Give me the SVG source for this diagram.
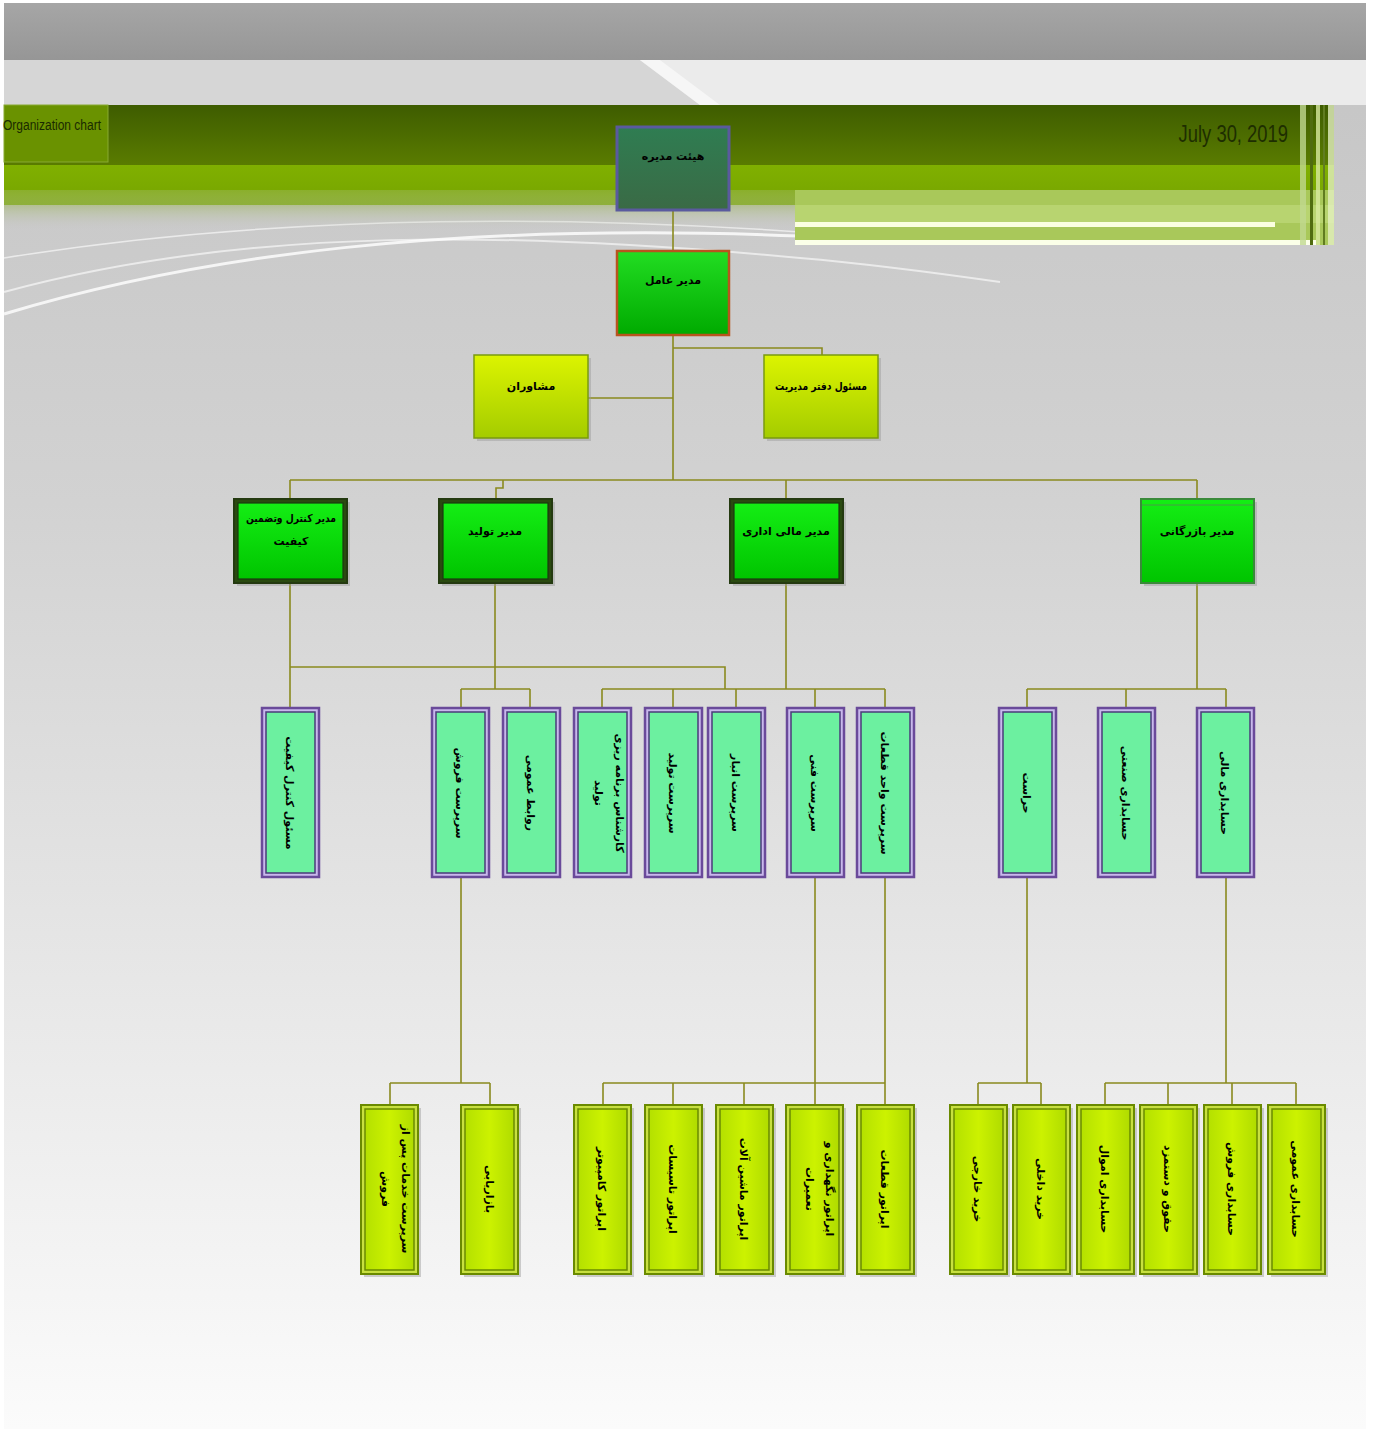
<svg xmlns="http://www.w3.org/2000/svg" width="1373" height="1429" viewBox="0 0 1373 1429">
<defs>
<linearGradient id="bg" x1="0" y1="0" x2="0" y2="1">
<stop offset="0" stop-color="#c4c4c4"/>
<stop offset="0.35" stop-color="#d2d2d2"/>
<stop offset="0.7" stop-color="#e8e8e8"/>
<stop offset="1" stop-color="#fbfbfb"/>
</linearGradient>
<linearGradient id="topgray" x1="0" y1="0" x2="0" y2="1">
<stop offset="0" stop-color="#a6a6a6"/>
<stop offset="1" stop-color="#969696"/>
</linearGradient>
<linearGradient id="olive" x1="0" y1="0" x2="0" y2="1">
<stop offset="0" stop-color="#3e5c00"/>
<stop offset="1" stop-color="#5a7c00"/>
</linearGradient>
<linearGradient id="band" x1="0" y1="0" x2="0" y2="1">
<stop offset="0" stop-color="#80b000"/>
<stop offset="1" stop-color="#76a400"/>
</linearGradient>
<linearGradient id="fade" x1="0" y1="0" x2="0" y2="1">
<stop offset="0" stop-color="#8cb030" stop-opacity="0.9"/>
<stop offset="1" stop-color="#c4c4c4" stop-opacity="0"/>
</linearGradient>
<linearGradient id="gBoard" x1="0" y1="0" x2="0" y2="1">
<stop offset="0" stop-color="#2f7d52"/>
<stop offset="1" stop-color="#3a6a45"/>
</linearGradient>
<linearGradient id="gCeo" x1="0" y1="0" x2="0" y2="1">
<stop offset="0" stop-color="#22dd22"/>
<stop offset="1" stop-color="#00aa00"/>
</linearGradient>
<linearGradient id="gYel" x1="0" y1="0" x2="0" y2="1">
<stop offset="0" stop-color="#dcf400"/>
<stop offset="1" stop-color="#a4cc00"/>
</linearGradient>
<linearGradient id="gMgr" x1="0" y1="0" x2="0" y2="1">
<stop offset="0" stop-color="#14ee14"/>
<stop offset="1" stop-color="#00c400"/>
</linearGradient>
<linearGradient id="gL5" x1="0" y1="0" x2="1" y2="0">
<stop offset="0" stop-color="#b4e000"/>
<stop offset="0.5" stop-color="#ccf200"/>
<stop offset="1" stop-color="#b0dc00"/>
</linearGradient>
<style>
.c{fill:none;stroke:#8a8a1e;stroke-width:1.6}
.t{font-family:"DejaVu Sans","Noto Sans",sans-serif;font-size:11px;font-weight:bold;fill:#000;text-anchor:middle;direction:rtl}
.l4o{fill:#c9b8ec;stroke:#6a4a9a;stroke-width:2.5}
.l4i{fill:#6cf0a0;stroke:#4a3a7a;stroke-width:1.5}
.l5o{fill:#c8e040;stroke:#6a8a00;stroke-width:2}
.l5i{fill:url(#gL5);stroke:#6a8a00;stroke-width:1.5}
.l3o{fill:#2a4a10;stroke:#243a10;stroke-width:2}
.l3i{fill:url(#gMgr);stroke:#1a3a10;stroke-width:1.2}
.yel{fill:url(#gYel);stroke:#7a9a10;stroke-width:1.5}
.sh{fill:#999;opacity:0.45}
</style>
</defs>

<!-- background -->
<rect x="0" y="0" width="1373" height="1429" fill="#ffffff"/>
<rect x="4" y="3" width="1362" height="1426" fill="url(#bg)"/>
<rect x="4" y="3" width="1362" height="57" fill="url(#topgray)"/>
<rect x="4" y="60" width="1362" height="45" fill="#d6d6d6"/>
<polygon points="640,60 1366,60 1366,105 700,105" fill="#ebebeb"/>
<polygon points="640,60 660,60 720,105 700,105" fill="#f6f6f6"/>
<path d="M4,314 C200,255 450,222 800,236" fill="none" stroke="#ffffff" stroke-width="3" opacity="0.8"/>
<path d="M4,292 C250,225 520,232 800,258 C870,264 930,272 1000,282" fill="none" stroke="#ffffff" stroke-width="2" opacity="0.6"/>
<path d="M4,258 C300,210 600,218 800,232" fill="none" stroke="#ffffff" stroke-width="1.5" opacity="0.6"/>
<rect x="4" y="105" width="1330" height="60" fill="url(#olive)"/>
<rect x="4" y="165" width="1330" height="40" fill="url(#band)"/>
<rect x="4" y="190" width="791" height="40" fill="url(#fade)"/>
<rect x="795" y="190" width="539" height="55" fill="#a9c85a"/>
<rect x="795" y="205" width="539" height="18" fill="#b8d470"/>
<rect x="795" y="222" width="480" height="5" fill="#fbffe0"/>
<rect x="795" y="240" width="521" height="5" fill="#fbffe8"/>
<rect x="1300" y="105" width="6" height="140" fill="#c0d890" opacity="0.8"/>
<rect x="1310" y="105" width="3" height="140" fill="#506c10"/>
<rect x="1316" y="105" width="4" height="140" fill="#d8eaa0" opacity="0.8"/>
<rect x="1323" y="105" width="2" height="140" fill="#607c20"/>
<rect x="1328" y="105" width="6" height="140" fill="#e4f0c0" opacity="0.8"/>
<rect x="4" y="105" width="104" height="57" fill="#6a9200" stroke="#88aa30" stroke-width="1"/>
<text x="52" y="130" font-family="Liberation Sans, Arial, sans-serif" font-size="14" fill="#1a2a00" text-anchor="middle" textLength="98" lengthAdjust="spacingAndGlyphs">Organization chart</text>
<text x="1288" y="142" font-family="Liberation Sans, Arial, sans-serif" font-size="23" fill="#1e2e00" text-anchor="end" transform="translate(1288 0) scale(0.8 1) translate(-1288 0)">July 30, 2019</text>

<!-- connectors -->
<g id="connectors">
<path class="c" d="M673,210 V250"/>
<path class="c" d="M673,335 V480"/>
<path class="c" d="M673,348 H822 V355"/>
<path class="c" d="M588,398 H673"/>
<path class="c" d="M290,480 H1197"/>
<path class="c" d="M290,480 V500"/>
<path class="c" d="M503,480 V488 H496 V500"/>
<path class="c" d="M786,480 V500"/>
<path class="c" d="M1197,480 V500"/>
<path class="c" d="M290,583 V709"/>
<path class="c" d="M290,667 H725 V689"/>
<path class="c" d="M495,583 V689"/>
<path class="c" d="M461,689 H530"/>
<path class="c" d="M461,689 V709"/>
<path class="c" d="M530,689 V709"/>
<path class="c" d="M786,583 V689"/>
<path class="c" d="M602,689 H885"/>
<path class="c" d="M602,689 V709"/>
<path class="c" d="M673,689 V709"/>
<path class="c" d="M736,689 V709"/>
<path class="c" d="M815,689 V709"/>
<path class="c" d="M885,689 V709"/>
<path class="c" d="M1027,689 H1226"/>
<path class="c" d="M1197,583 V689"/>
<path class="c" d="M1027,689 V709"/>
<path class="c" d="M1126,689 V709"/>
<path class="c" d="M1226,689 V709"/>
<path class="c" d="M461,877 V1083"/>
<path class="c" d="M390,1083 H490"/>
<path class="c" d="M390,1083 V1105"/>
<path class="c" d="M490,1083 V1105"/>
<path class="c" d="M815,877 V1083"/>
<path class="c" d="M885,877 V1105"/>
<path class="c" d="M603,1083 H885"/>
<path class="c" d="M603,1083 V1105"/>
<path class="c" d="M673,1083 V1105"/>
<path class="c" d="M744,1083 V1105"/>
<path class="c" d="M815,1083 V1105"/>
<path class="c" d="M1027,877 V1083"/>
<path class="c" d="M978,1083 H1041"/>
<path class="c" d="M978,1083 V1105"/>
<path class="c" d="M1041,1083 V1105"/>
<path class="c" d="M1226,877 V1083"/>
<path class="c" d="M1105,1083 H1296"/>
<path class="c" d="M1105,1083 V1105"/>
<path class="c" d="M1168,1083 V1105"/>
<path class="c" d="M1232,1083 V1105"/>
<path class="c" d="M1296,1083 V1105"/>
</g>

<!-- top nodes -->
<g id="board">
<rect x="617" y="127" width="112" height="83" fill="url(#gBoard)" stroke="#5a5a9e" stroke-width="3"/>
<text class="t" x="673" y="160">هیئت مدیره</text>
</g>
<g id="ceo">
<rect x="617" y="251" width="112" height="84" fill="url(#gCeo)" stroke="#b8541e" stroke-width="2.5"/>
<text class="t" x="673" y="284">مدیر عامل</text>
</g>
<g id="advisors">
<rect class="sh" x="477" y="358" width="114" height="83"/>
<rect class="yel" x="474" y="355" width="114" height="83"/>
<text class="t" x="531" y="390">مشاوران</text>
</g>
<g id="office">
<rect class="sh" x="767" y="358" width="114" height="83"/>
<rect class="yel" x="764" y="355" width="114" height="83"/>
<text class="t" x="821" y="390" textLength="92" lengthAdjust="spacingAndGlyphs">مسئول دفتر مدیریت</text>
</g>

<!-- level 3 managers -->
<g id="qc-manager">
<rect class="sh" x="237" y="502" width="113" height="84"/>
<rect class="l3o" x="234" y="499" width="113" height="84"/>
<rect class="l3i" x="238" y="503" width="105" height="76"/>
<text class="t" x="291" y="522" textLength="90" lengthAdjust="spacingAndGlyphs">مدیر کنترل وتضمین</text>
<text class="t" x="291" y="545">کیفیت</text>
</g>
<g id="production-manager">
<rect class="sh" x="442" y="502" width="113" height="84"/>
<rect class="l3o" x="439" y="499" width="113" height="84"/>
<rect class="l3i" x="443" y="503" width="105" height="76"/>
<text class="t" x="495" y="535">مدیر تولید</text>
</g>
<g id="finance-manager">
<rect class="sh" x="733" y="502" width="113" height="84"/>
<rect class="l3o" x="730" y="499" width="113" height="84"/>
<rect class="l3i" x="734" y="503" width="105" height="76"/>
<text class="t" x="786" y="535">مدیر مالی اداری</text>
</g>
<g id="commerce-manager">
<rect class="sh" x="1144" y="502" width="113" height="84"/>
<rect x="1141" y="499" width="113" height="84" fill="url(#gMgr)" stroke="#3a8a3a" stroke-width="2"/>
<line x1="1142" y1="505" x2="1253" y2="505" stroke="#4a9a4a" stroke-width="1"/>
<text class="t" x="1197" y="535">مدیر بازرگانی</text>
</g>

<!-- level 4 -->
<g id="n4-1"><rect class="l4o" x="262" y="708" width="57" height="169"/><rect class="l4i" x="266" y="712" width="49" height="161"/><text class="t" transform="translate(290 793) rotate(90)" y="4">مسئول کنترل کیفیت</text></g>
<g id="n4-2"><rect class="l4o" x="432" y="708" width="57" height="169"/><rect class="l4i" x="436" y="712" width="49" height="161"/><text class="t" transform="translate(460 793) rotate(90)" y="4">سرپرست فروش</text></g>
<g id="n4-3"><rect class="l4o" x="503" y="708" width="57" height="169"/><rect class="l4i" x="507" y="712" width="49" height="161"/><text class="t" transform="translate(531 793) rotate(90)" y="4">روابط عمومی</text></g>
<g id="n4-4"><rect class="l4o" x="574" y="708" width="57" height="169"/><rect class="l4i" x="578" y="712" width="49" height="161"/><text class="t" transform="translate(610 793) rotate(90)" y="-6">کارشناس برنامه ریزی</text><text class="t" transform="translate(610 793) rotate(90)" y="15">تولید</text></g>
<g id="n4-5"><rect class="l4o" x="645" y="708" width="57" height="169"/><rect class="l4i" x="649" y="712" width="49" height="161"/><text class="t" transform="translate(673 793) rotate(90)" y="4">سرپرست تولید</text></g>
<g id="n4-6"><rect class="l4o" x="708" y="708" width="57" height="169"/><rect class="l4i" x="712" y="712" width="49" height="161"/><text class="t" transform="translate(736 793) rotate(90)" y="4">سرپرست انبار</text></g>
<g id="n4-7"><rect class="l4o" x="787" y="708" width="57" height="169"/><rect class="l4i" x="791" y="712" width="49" height="161"/><text class="t" transform="translate(815 793) rotate(90)" y="4">سرپرست فنی</text></g>
<g id="n4-8"><rect class="l4o" x="857" y="708" width="57" height="169"/><rect class="l4i" x="861" y="712" width="49" height="161"/><text class="t" transform="translate(885 793) rotate(90)" y="4">سرپرست واحد قطعات</text></g>
<g id="n4-9"><rect class="l4o" x="999" y="708" width="57" height="169"/><rect class="l4i" x="1003" y="712" width="49" height="161"/><text class="t" transform="translate(1027 793) rotate(90)" y="4">حراست</text></g>
<g id="n4-10"><rect class="l4o" x="1098" y="708" width="57" height="169"/><rect class="l4i" x="1102" y="712" width="49" height="161"/><text class="t" transform="translate(1126 793) rotate(90)" y="4">حسابداری صنعتی</text></g>
<g id="n4-11"><rect class="l4o" x="1197" y="708" width="57" height="169"/><rect class="l4i" x="1201" y="712" width="49" height="161"/><text class="t" transform="translate(1225 793) rotate(90)" y="4">حسابداری مالی</text></g>

<!-- level 5 -->
<g id="n5-1"><rect class="sh" x="364" y="1108" width="57" height="169"/><rect class="l5o" x="361" y="1105" width="57" height="169"/><rect class="l5i" x="365" y="1109" width="49" height="161"/><text class="t" transform="translate(396 1189) rotate(90)" y="-6">سرپرست خدمات پس از</text><text class="t" transform="translate(396 1189) rotate(90)" y="14">فروش</text></g>
<g id="n5-2"><rect class="sh" x="464" y="1108" width="57" height="169"/><rect class="l5o" x="461" y="1105" width="57" height="169"/><rect class="l5i" x="465" y="1109" width="49" height="161"/><text class="t" transform="translate(490 1189) rotate(90)" y="4">بازاریابی</text></g>
<g id="n5-3"><rect class="sh" x="577" y="1108" width="57" height="169"/><rect class="l5o" x="574" y="1105" width="57" height="169"/><rect class="l5i" x="578" y="1109" width="49" height="161"/><text class="t" transform="translate(602 1189) rotate(90)" y="4">اپراتور کامپیوتر</text></g>
<g id="n5-4"><rect class="sh" x="648" y="1108" width="57" height="169"/><rect class="l5o" x="645" y="1105" width="57" height="169"/><rect class="l5i" x="649" y="1109" width="49" height="161"/><text class="t" transform="translate(673 1189) rotate(90)" y="4">اپراتور تاسیسات</text></g>
<g id="n5-5"><rect class="sh" x="719" y="1108" width="57" height="169"/><rect class="l5o" x="716" y="1105" width="57" height="169"/><rect class="l5i" x="720" y="1109" width="49" height="161"/><text class="t" transform="translate(744 1189) rotate(90)" y="4">اپراتور ماشین آلات</text></g>
<g id="n5-6"><rect class="sh" x="789" y="1108" width="57" height="169"/><rect class="l5o" x="786" y="1105" width="57" height="169"/><rect class="l5i" x="790" y="1109" width="49" height="161"/><text class="t" transform="translate(820 1189) rotate(90)" y="-6">اپراتور نگهداری و</text><text class="t" transform="translate(820 1189) rotate(90)" y="14">تعمیرات</text></g>
<g id="n5-7"><rect class="sh" x="860" y="1108" width="57" height="169"/><rect class="l5o" x="857" y="1105" width="57" height="169"/><rect class="l5i" x="861" y="1109" width="49" height="161"/><text class="t" transform="translate(885 1189) rotate(90)" y="4">اپراتور قطعات</text></g>
<g id="n5-8"><rect class="sh" x="953" y="1108" width="57" height="169"/><rect class="l5o" x="950" y="1105" width="57" height="169"/><rect class="l5i" x="954" y="1109" width="49" height="161"/><text class="t" transform="translate(978 1189) rotate(90)" y="4">خرید خارجی</text></g>
<g id="n5-9"><rect class="sh" x="1016" y="1108" width="57" height="169"/><rect class="l5o" x="1013" y="1105" width="57" height="169"/><rect class="l5i" x="1017" y="1109" width="49" height="161"/><text class="t" transform="translate(1041 1189) rotate(90)" y="4">خرید داخلی</text></g>
<g id="n5-10"><rect class="sh" x="1080" y="1108" width="57" height="169"/><rect class="l5o" x="1077" y="1105" width="57" height="169"/><rect class="l5i" x="1081" y="1109" width="49" height="161"/><text class="t" transform="translate(1105 1189) rotate(90)" y="4">حسابداری اموال</text></g>
<g id="n5-11"><rect class="sh" x="1143" y="1108" width="57" height="169"/><rect class="l5o" x="1140" y="1105" width="57" height="169"/><rect class="l5i" x="1144" y="1109" width="49" height="161"/><text class="t" transform="translate(1168 1189) rotate(90)" y="4">حقوق و دستمزد</text></g>
<g id="n5-12"><rect class="sh" x="1207" y="1108" width="57" height="169"/><rect class="l5o" x="1204" y="1105" width="57" height="169"/><rect class="l5i" x="1208" y="1109" width="49" height="161"/><text class="t" transform="translate(1232 1189) rotate(90)" y="4">حسابداری فروش</text></g>
<g id="n5-13"><rect class="sh" x="1271" y="1108" width="57" height="169"/><rect class="l5o" x="1268" y="1105" width="57" height="169"/><rect class="l5i" x="1272" y="1109" width="49" height="161"/><text class="t" transform="translate(1296 1189) rotate(90)" y="4">حسابداری عمومی</text></g>
</svg>
